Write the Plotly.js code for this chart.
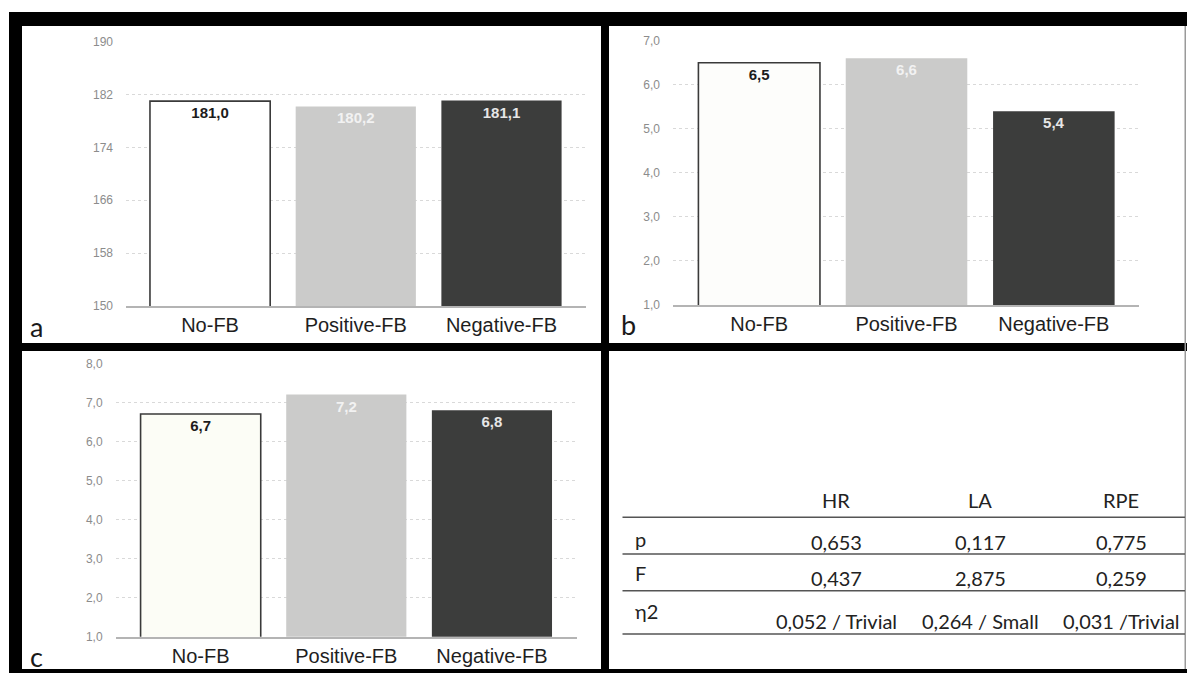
<!DOCTYPE html>
<html>
<head>
<meta charset="utf-8">
<script src="https://cdn.plot.ly/plotly-3.0.1.min.js"></script>
<style>
  html, body { margin: 0; padding: 0; background: #ffffff; }
  #chart { width: 1187px; height: 673px; }
</style>
</head>
<body>
<div id="chart"></div>
<script>
// ---------------- data ----------------
const categories = ["No-FB", "Positive-FB", "Negative-FB"];
const hrValues = [181.0, 180.2, 181.1];
const laValues = [6.5, 6.6, 5.4];
const rpeValues = [6.7, 7.2, 6.8];
const hrTicks = [150, 158, 166, 174, 182, 190];
const laTicks = [1, 2, 3, 4, 5, 6, 7];
const rpeTicks = [1, 2, 3, 4, 5, 6, 7, 8];
const panelLetters = ["a", "b", "c"];

const tableHeaders = ["HR", "LA", "RPE"];
const rowLabels = ["p", "F", "η2"];
const pValues = [0.653, 0.117, 0.775];
const fValues = [0.437, 2.875, 0.259];
const eta2Values = [0.052, 0.264, 0.031];
const effectSizes = ["Trivial", "Small", "Trivial"];
const effectSeparators = [" / ", " / ", " /"];

// ---------------- helpers ----------------
const W = 1187, H = 673;
const px = x => x / W;
const py = y => 1 - y / H;
const fmt = (v, d) => v.toFixed(d).replace(".", ",");

const barFill = ["#fdfdfa", "#cbcbca", "#3c3d3c"];
const textCol = ["#1c1c1c", "#f2f2f2", "#e6e6e6"];

function barTrace(vals, xa, ya, firstFill) {
  const fills = barFill.slice();
  fills[0] = firstFill;
  return {
    type: "bar",
    x: categories,
    y: vals,
    xaxis: xa,
    yaxis: ya,
    marker: {
      color: fills,
      line: { color: ["#3a3a3a", "rgba(0,0,0,0)", "rgba(0,0,0,0)"], width: [1.6, 0, 0] }
    },
    text: vals.map(v => fmt(v, 1)),
    textposition: "inside",
    insidetextanchor: "end",
    textangle: 0,
    constraintext: "none",
    textfont: { family: "Liberation Sans, Arial, sans-serif", size: 15, color: textCol, weight: "bold" },
    hoverinfo: "skip",
    showlegend: false
  };
}

const data = [
  barTrace(hrValues, "x", "y", "#ffffff"),
  barTrace(laValues, "x2", "y2", "#fdfdfb"),
  barTrace(rpeValues, "x3", "y3", "#fcfdf6")
];

const catFont = { family: "Liberation Sans, Arial, sans-serif", size: 20, color: "#1e1e1e" };
const tickFont = { family: "Liberation Sans, Arial, sans-serif", size: 12, color: "#8c8c8c" };

function xAxis(domain, range, anchor) {
  return {
    domain: domain, range: range, anchor: anchor,
    type: "category",
    showgrid: false, zeroline: false,
    showline: true, linecolor: "#b4b4b4", linewidth: 2,
    ticks: "", tickfont: catFont,
    ticklabelstandoff: 0,
    fixedrange: true
  };
}
function yAxis(domain, range, ticks, fmtStr, anchor) {
  return {
    domain: domain, range: range, anchor: anchor,
    tickmode: "array", tickvals: ticks,
    ticktext: ticks.map(t => fmtStr ? fmt(t, 1) : String(t)),
    showgrid: true, gridcolor: "#d9d9d9", gridwidth: 1, griddash: "dot",
    zeroline: false, showline: false,
    ticks: "", tickfont: tickFont,
    ticklabelstandoff: 12,
    fixedrange: true
  };
}

// frame shapes (black borders of the figure)
const shapes = [];
function rect(x0, y0, x1, y1, color) {
  shapes.push({ type: "rect", xref: "paper", yref: "paper",
    x0: px(x0), x1: px(x1), y0: py(y1), y1: py(y0),
    fillcolor: color, line: { width: 0 }, layer: "above" });
}
rect(9, 12, 1187, 26, "#000000");      // top band
rect(9, 12, 22, 673, "#000000");       // left border
rect(9, 343, 1187, 351, "#000000");    // horizontal divider
rect(601, 12, 609, 673, "#000000");    // vertical divider
rect(9, 669, 1187, 673, "#000000");    // bottom band
rect(1184.5, 26, 1186, 669, "#9a9a9a"); // thin right edge

// table lines
const tableLineY = [517.3, 554, 590.7, 634];
tableLineY.forEach(y => shapes.push({
  type: "line", xref: "paper", yref: "paper",
  x0: px(622.5), x1: px(1185), y0: py(y), y1: py(y),
  line: { color: "#555555", width: 1.5 }
}));

// annotations
const annotations = [];
const letterPos = [[36.5, 326], [628, 324], [36.5, 656]];
panelLetters.forEach((l, i) => annotations.push({
  text: l, xref: "paper", yref: "paper",
  x: px(letterPos[i][0]), y: py(letterPos[i][1]),
  xanchor: "center", yanchor: "middle", showarrow: false,
  font: { family: "Lato, Noto Sans, sans-serif", size: 27, color: "#1a1a1a" }
}));

const tblFont = { family: "Lato, Noto Sans, sans-serif", size: 20, color: "#222222" };
const colX = [836, 980, 1121];
tableHeaders.forEach((h, i) => annotations.push({
  text: h, xref: "paper", yref: "paper", x: px(colX[i]), y: py(500),
  xanchor: "center", yanchor: "middle", showarrow: false, font: tblFont
}));
const rowLabelY = [539, 573, 611];
rowLabels.forEach((r, i) => annotations.push({
  text: r, xref: "paper", yref: "paper", x: px(633), y: py(rowLabelY[i]),
  xanchor: "left", yanchor: "middle", showarrow: false, font: tblFont
}));
const rowTexts = [
  pValues.map(v => fmt(v, 3)),
  fValues.map(v => fmt(v, 3)),
  eta2Values.map((v, i) => fmt(v, 3) + effectSeparators[i] + effectSizes[i])
];
const rowValueY = [541.7, 577.7, 621];
rowTexts.forEach((row, r) => row.forEach((t, c) => annotations.push({
  text: t, xref: "paper", yref: "paper", x: px(colX[c]), y: py(rowValueY[r]),
  xanchor: "center", yanchor: "middle", showarrow: false, font: tblFont
})));

const layout = {
  width: W, height: H,
  margin: { l: 0, r: 0, t: 0, b: 0 },
  paper_bgcolor: "#ffffff", plot_bgcolor: "rgba(0,0,0,0)",
  separators: ",.",
  bargap: 0.175,
  showlegend: false,
  xaxis: xAxis([px(126), px(586)], [-0.577, 2.58], "y"),
  yaxis: yAxis([py(306), py(41.7)], [150, 190], hrTicks, false, "x"),
  xaxis2: xAxis([px(673), px(1139)], [-0.585, 2.578], "y2"),
  yaxis2: yAxis([py(305), py(40.7)], [1, 7], laTicks, true, "x2"),
  xaxis3: xAxis([px(115.6), px(577)], [-0.584, 2.584], "y3"),
  yaxis3: yAxis([py(636.7), py(363.3)], [1, 8], rpeTicks, true, "x3"),
  shapes: shapes,
  annotations: annotations
};

Plotly.newPlot("chart", data, layout, { displayModeBar: false, staticPlot: true });
</script>
</body>
</html>
